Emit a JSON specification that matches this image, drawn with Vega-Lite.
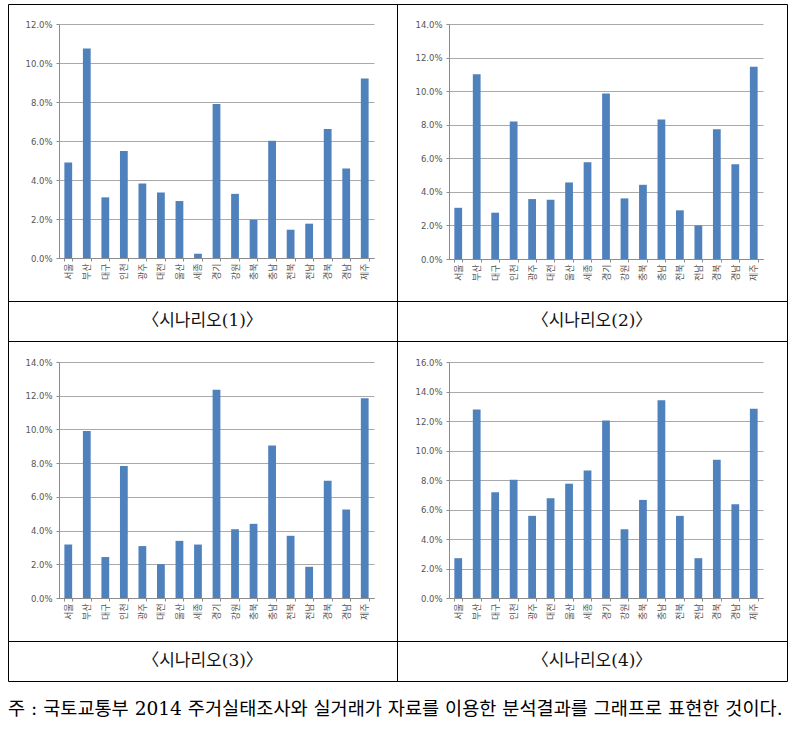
{
  "$schema": "https://vega.github.io/schema/vega-lite/v6.json",
  "background": "white",
  "padding": {"left": 3, "top": 3, "right": 14, "bottom": 10},
  "datasets": {
    "bars": [
      {"s": 1, "r": "서울", "v": 4.90}, {"s": 1, "r": "부산", "v": 10.75}, {"s": 1, "r": "대구", "v": 3.11}, {"s": 1, "r": "인천", "v": 5.49},
      {"s": 1, "r": "광주", "v": 3.82}, {"s": 1, "r": "대전", "v": 3.36}, {"s": 1, "r": "울산", "v": 2.92}, {"s": 1, "r": "세종", "v": 0.22},
      {"s": 1, "r": "경기", "v": 7.90}, {"s": 1, "r": "강원", "v": 3.29}, {"s": 1, "r": "충북", "v": 1.96}, {"s": 1, "r": "충남", "v": 6.01},
      {"s": 1, "r": "전북", "v": 1.45}, {"s": 1, "r": "전남", "v": 1.76}, {"s": 1, "r": "경북", "v": 6.62}, {"s": 1, "r": "경남", "v": 4.59},
      {"s": 1, "r": "제주", "v": 9.20},
      {"s": 2, "r": "서울", "v": 3.05}, {"s": 2, "r": "부산", "v": 11.0}, {"s": 2, "r": "대구", "v": 2.76}, {"s": 2, "r": "인천", "v": 8.19},
      {"s": 2, "r": "광주", "v": 3.57}, {"s": 2, "r": "대전", "v": 3.53}, {"s": 2, "r": "울산", "v": 4.56}, {"s": 2, "r": "세종", "v": 5.77},
      {"s": 2, "r": "경기", "v": 9.86}, {"s": 2, "r": "강원", "v": 3.61}, {"s": 2, "r": "충북", "v": 4.42}, {"s": 2, "r": "충남", "v": 8.31},
      {"s": 2, "r": "전북", "v": 2.90}, {"s": 2, "r": "전남", "v": 2.0}, {"s": 2, "r": "경북", "v": 7.73}, {"s": 2, "r": "경남", "v": 5.65},
      {"s": 2, "r": "제주", "v": 11.46},
      {"s": 3, "r": "서울", "v": 3.17}, {"s": 3, "r": "부산", "v": 9.90}, {"s": 3, "r": "대구", "v": 2.43}, {"s": 3, "r": "인천", "v": 7.83},
      {"s": 3, "r": "광주", "v": 3.08}, {"s": 3, "r": "대전", "v": 2.01}, {"s": 3, "r": "울산", "v": 3.39}, {"s": 3, "r": "세종", "v": 3.17},
      {"s": 3, "r": "경기", "v": 12.36}, {"s": 3, "r": "강원", "v": 4.08}, {"s": 3, "r": "충북", "v": 4.40}, {"s": 3, "r": "충남", "v": 9.05},
      {"s": 3, "r": "전북", "v": 3.69}, {"s": 3, "r": "전남", "v": 1.85}, {"s": 3, "r": "경북", "v": 6.96}, {"s": 3, "r": "경남", "v": 5.25},
      {"s": 3, "r": "제주", "v": 11.85},
      {"s": 4, "r": "서울", "v": 2.70}, {"s": 4, "r": "부산", "v": 12.78}, {"s": 4, "r": "대구", "v": 7.17}, {"s": 4, "r": "인천", "v": 8.02},
      {"s": 4, "r": "광주", "v": 5.57}, {"s": 4, "r": "대전", "v": 6.76}, {"s": 4, "r": "울산", "v": 7.75}, {"s": 4, "r": "세종", "v": 8.65},
      {"s": 4, "r": "경기", "v": 12.03}, {"s": 4, "r": "강원", "v": 4.66}, {"s": 4, "r": "충북", "v": 6.65}, {"s": 4, "r": "충남", "v": 13.41},
      {"s": 4, "r": "전북", "v": 5.57}, {"s": 4, "r": "전남", "v": 2.70}, {"s": 4, "r": "경북", "v": 9.37}, {"s": 4, "r": "경남", "v": 6.35},
      {"s": 4, "r": "제주", "v": 12.83}
    ]
  },
  "title": {
    "text": "주 : 국토교통부 2014 주거실태조사와 실거래가 자료를 이용한 분석결과를 그래프로 표현한 것이다.",
    "orient": "bottom", "anchor": "start", "frame": "group",
    "font": "DejaVu Serif, Noto Sans CJK KR", "fontSize": 18.6, "fontWeight": "normal", "color": "#000", "offset": 18
  },
  "columns": 2,
  "spacing": 0,
  "bounds": "flush",
  "concat": [
    {
      "width": 389, "height": 297,
      "data": {"name": "bars"},
      "transform": [{"filter": "datum.s == 1"}],
      "mark": {"type": "bar", "color": "#4F81BD"},
      "encoding": {
        "x": {"field": "r", "type": "nominal", "sort": null,
          "scale": {"range": [51, 366], "paddingInner": 0.58, "paddingOuter": 0.29},
          "axis": {"title": null, "offset": -43}},
        "y": {"field": "v", "type": "quantitative",
          "scale": {"domain": [0, 12], "nice": false, "zero": true, "range": [254, 20]},
          "axis": {"title": null, "offset": -51, "values": [0, 2, 4, 6, 8, 10, 12]}}
      }
    },
    {
      "width": 390, "height": 297,
      "data": {"name": "bars"},
      "transform": [{"filter": "datum.s == 2"}],
      "mark": {"type": "bar", "color": "#4F81BD"},
      "encoding": {
        "x": {"field": "r", "type": "nominal", "sort": null,
          "scale": {"range": [52, 366], "paddingInner": 0.58, "paddingOuter": 0.29},
          "axis": {"title": null, "offset": -42}},
        "y": {"field": "v", "type": "quantitative",
          "scale": {"domain": [0, 14], "nice": false, "zero": true, "range": [255, 20]},
          "axis": {"title": null, "offset": -52, "values": [0, 2, 4, 6, 8, 10, 12, 14]}}
      }
    },
    {
      "width": 389, "height": 40,
      "view": {"stroke": "#000", "strokeWidth": 1},
      "data": {"values": [{"c": "〈시나리오(1)〉"}]},
      "mark": {"type": "text", "font": "DejaVu Serif, Noto Sans CJK KR", "fontSize": 17, "color": "#111"},
      "encoding": {"text": {"field": "c"}}
    },
    {
      "width": 390, "height": 40,
      "view": {"stroke": "#000", "strokeWidth": 1},
      "data": {"values": [{"c": "〈시나리오(2)〉"}]},
      "mark": {"type": "text", "font": "DejaVu Serif, Noto Sans CJK KR", "fontSize": 17, "color": "#111"},
      "encoding": {"text": {"field": "c"}}
    },
    {
      "width": 389, "height": 300,
      "data": {"name": "bars"},
      "transform": [{"filter": "datum.s == 3"}],
      "mark": {"type": "bar", "color": "#4F81BD"},
      "encoding": {
        "x": {"field": "r", "type": "nominal", "sort": null,
          "scale": {"range": [51, 366], "paddingInner": 0.58, "paddingOuter": 0.29},
          "axis": {"title": null, "offset": -43}},
        "y": {"field": "v", "type": "quantitative",
          "scale": {"domain": [0, 14], "nice": false, "zero": true, "range": [257, 21]},
          "axis": {"title": null, "offset": -51, "values": [0, 2, 4, 6, 8, 10, 12, 14]}}
      }
    },
    {
      "width": 390, "height": 300,
      "data": {"name": "bars"},
      "transform": [{"filter": "datum.s == 4"}],
      "mark": {"type": "bar", "color": "#4F81BD"},
      "encoding": {
        "x": {"field": "r", "type": "nominal", "sort": null,
          "scale": {"range": [52, 366], "paddingInner": 0.58, "paddingOuter": 0.29},
          "axis": {"title": null, "offset": -43}},
        "y": {"field": "v", "type": "quantitative",
          "scale": {"domain": [0, 16], "nice": false, "zero": true, "range": [257, 21]},
          "axis": {"title": null, "offset": -52, "values": [0, 2, 4, 6, 8, 10, 12, 14, 16]}}
      }
    },
    {
      "width": 389, "height": 40,
      "view": {"stroke": "#000", "strokeWidth": 1},
      "data": {"values": [{"c": "〈시나리오(3)〉"}]},
      "mark": {"type": "text", "font": "DejaVu Serif, Noto Sans CJK KR", "fontSize": 17, "color": "#111"},
      "encoding": {"text": {"field": "c"}}
    },
    {
      "width": 390, "height": 40,
      "view": {"stroke": "#000", "strokeWidth": 1},
      "data": {"values": [{"c": "〈시나리오(4)〉"}]},
      "mark": {"type": "text", "font": "DejaVu Serif, Noto Sans CJK KR", "fontSize": 17, "color": "#111"},
      "encoding": {"text": {"field": "c"}}
    }
  ],
  "config": {
    "view": {"stroke": "#000", "strokeWidth": 1},
    "font": "Noto Sans CJK KR",
    "axisX": {
      "labelAngle": -90, "labelFontSize": 9, "labelColor": "#555", "labelPadding": 2,
      "domainColor": "#8c8c8c", "tickColor": "#8c8c8c", "tickSize": 3, "tickBand": "extent",
      "grid": false, "labelFont": "Noto Sans CJK KR"
    },
    "axisY": {
      "labelExpr": "format(datum.value, '.1f') + '%'",
      "labelFontSize": 8.5, "labelColor": "#555", "labelPadding": 4, "labelFont": "Verdana, DejaVu Sans",
      "domainColor": "#8c8c8c", "tickColor": "#8c8c8c", "tickSize": 3,
      "grid": true, "gridColor": "#a9a9a9", "gridWidth": 1
    }
  }
}
